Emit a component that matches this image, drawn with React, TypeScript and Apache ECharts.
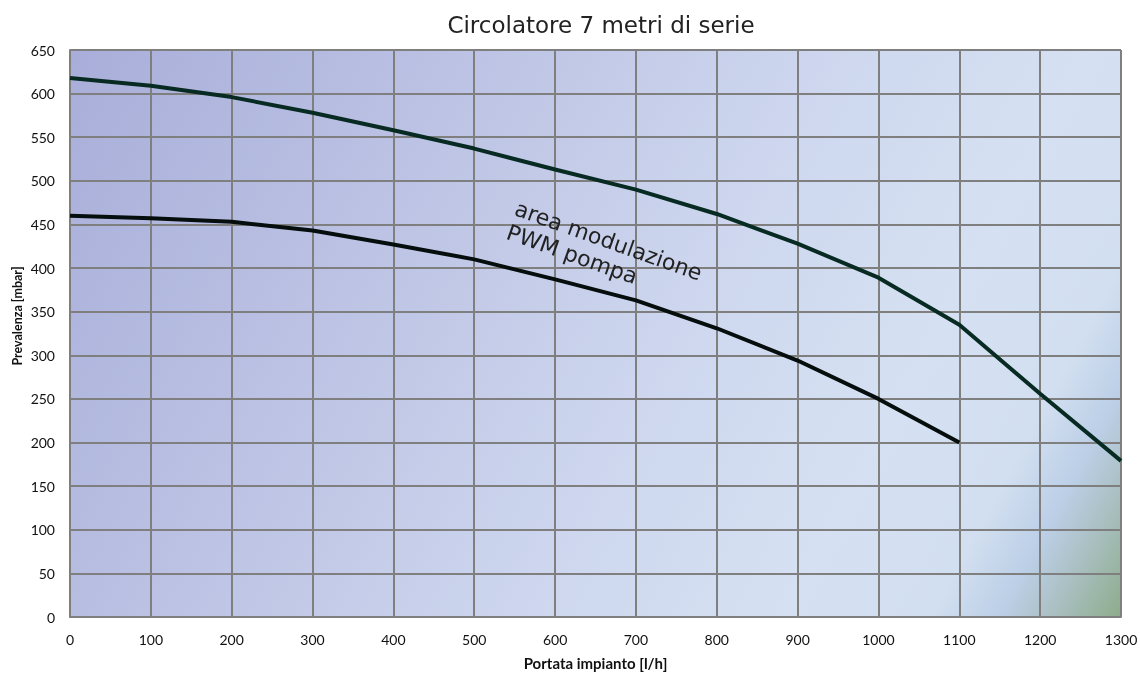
import React, { useEffect, useRef } from "react";
import * as echarts from "echarts";

const flow = [0, 100, 200, 300, 400, 500, 600, 700, 800, 900, 1000, 1100, 1200, 1300];
const upperHead = [618, 609, 596, 578, 558, 537, 513, 490, 462, 428, 389, 335, 256, 179];
const lowerFlow = [0, 100, 200, 300, 400, 500, 600, 700, 800, 900, 1000, 1100];
const lowerHead = [460, 457, 453, 443, 427, 410, 387, 363, 331, 294, 250, 200];

const title = "Circolatore 7 metri di serie";
const xName = "Portata impianto [l/h]";
const yName = "Prevalenza [mbar]";
const note = "area modulazione\nPWM pompa";

export default function App() {
  const ref = useRef<HTMLDivElement>(null);
  useEffect(() => {
    if (!ref.current) return;
    const chart = echarts.init(ref.current, null, { renderer: "svg" });
    const bg = new echarts.graphic.LinearGradient(
      70, 50, 1121, 617,
      [
        { offset: 0, color: "#a8aed9" },
        { offset: 0.3, color: "#bcc3e4" },
        { offset: 0.55, color: "#cdd6ee" },
        { offset: 0.75, color: "#d5e1f2" },
        { offset: 0.86, color: "#d2dff0" },
        { offset: 0.91, color: "#bccfe7" },
        { offset: 0.95, color: "#a9bfc0" },
        { offset: 1, color: "#8dac8b" },
      ],
      true
    );
    const labelFont = "Lato, 'Liberation Sans', sans-serif";
    chart.setOption({
      animation: false,
      title: {
        text: title,
        left: 596,
        textAlign: "center",
        top: 8,
        textStyle: { fontFamily: "'DejaVu Sans', sans-serif", fontSize: 23, fontWeight: "normal", color: "#222" },
      },
      grid: {
        left: 70,
        right: 19,
        top: 50,
        bottom: 56,
        show: true,
        backgroundColor: bg,
        borderWidth: 0,
        containLabel: false,
        outerBoundsMode: "none",
      },
      xAxis: {
        type: "value",
        min: 0,
        max: 1300,
        interval: 100,
        name: xName,
        nameLocation: "middle",
        nameGap: 38,
        nameTextStyle: { fontFamily: labelFont, fontSize: 15, fontWeight: "bold", color: "#111" },
        axisLine: { show: true, lineStyle: { color: "#7f7f7f", width: 2 } },
        axisTick: { show: false },
        axisLabel: { margin: 15, fontFamily: labelFont, fontSize: 14, color: "#111", formatter: (v: number) => String(v) },
        splitLine: { show: true, lineStyle: { color: "#7f7f7f", width: 2 } },
      },
      yAxis: {
        type: "value",
        min: 0,
        max: 650,
        interval: 50,
        axisLine: { show: true, lineStyle: { color: "#7f7f7f", width: 2 } },
        axisTick: { show: false },
        axisLabel: { margin: 15, fontFamily: labelFont, fontSize: 14, color: "#111" },
        splitLine: { show: true, lineStyle: { color: "#7f7f7f", width: 2 } },
      },
      series: [
        {
          type: "line",
          data: flow.map((f, i) => [f, upperHead[i]]),
          symbol: "none",
          lineStyle: { color: "#072a22", width: 4 },
          z: 5,
        },
        {
          type: "line",
          data: lowerFlow.map((f, i) => [f, lowerHead[i]]),
          symbol: "none",
          lineStyle: { color: "#050d0d", width: 4 },
          z: 5,
        },
      ],
      graphic: [
        {
          type: "text",
          x: 17.5,
          y: 316,
          rotation: Math.PI / 2,
          style: {
            text: yName,
            fill: "#111",
            font: "bold 12.5px Lato, 'Liberation Sans', sans-serif",
            textAlign: "center",
            textVerticalAlign: "middle",
          },
        },
        {
          type: "text",
          x: 520,
          y: 196,
          rotation: -0.342,
          z: 10,
          style: {
            text: note,
            fill: "#222",
            font: "22px 'DejaVu Sans', sans-serif",
            textAlign: "left",
            textVerticalAlign: "top",
            lineHeight: 25,
          },
        },
      ],
    });
    return () => chart.dispose();
  }, []);
  return <div ref={ref} style={{ position: "fixed", left: 0, top: 0, width: 1140, height: 673 }} />;
}
